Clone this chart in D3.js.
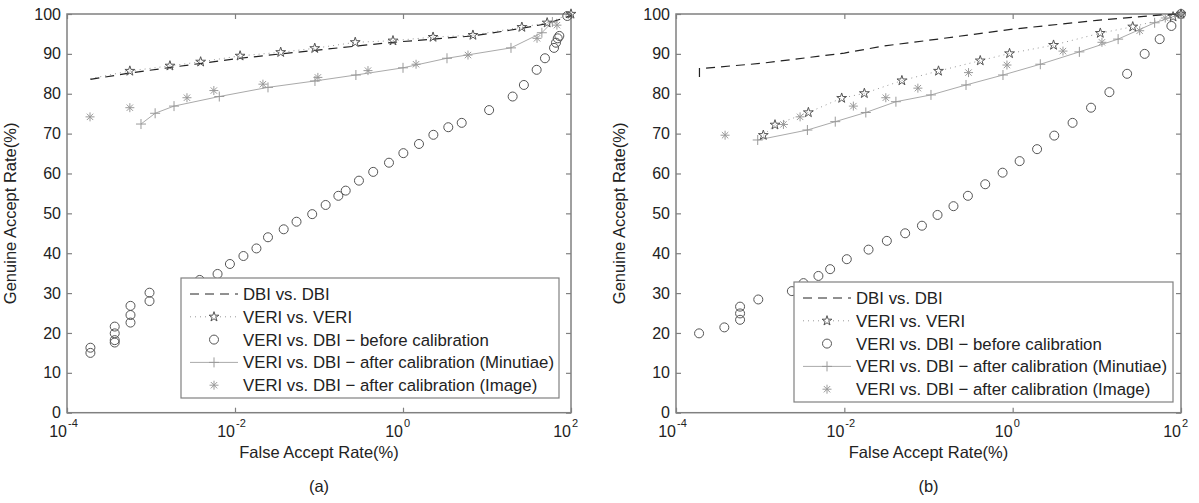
<!DOCTYPE html>
<html>
<head>
<meta charset="utf-8">
<script src="https://cdn.jsdelivr.net/npm/d3@7"></script>
<style>
  body { margin: 0; background: #fff; }
  text { font-family: "Liberation Sans", Arial, sans-serif; fill: #222; }
</style>
</head>
<body>
<svg id="chart" width="1199" height="503"></svg>
<script>
// ---- data ----
const xTicks = [1e-4, 1e-2, 1e0, 1e2];
const xTickExp = ["-4", "-2", "0", "2"];
const yTicks = [0, 10, 20, 30, 40, 50, 60, 70, 80, 90, 100];
const legendLabels = [
  "DBI vs. DBI",
  "VERI vs. VERI",
  "VERI vs. DBI \u2212 before calibration",
  "VERI vs. DBI \u2212 after calibration (Minutiae)",
  "VERI vs. DBI \u2212 after calibration (Image)"
];
const panelNames = ["(a)", "(b)"];

// panel (a)
const dbiA = [[1.9e-4,83.6],[5.6e-4,85.2],[1.7e-3,86.6],[1.15e-2,88.9],[9e-2,90.9],[0.76,92.9],[6.8,94.5],[26,96.4],[52,97.6],[100,99.6]];
const veriA = [[1.9e-4,83.8],[5.6e-4,85.7],[1.68e-3,87.0],[3.9e-3,88.0],[1.15e-2,89.5],[3.5e-2,90.4],[8.9e-2,91.4],[0.27,92.9],[0.76,93.3],[2.28,94.2],[6.8,94.7],[26,96.7],[52,97.8],[100,100]];
const beforeA = [[1.9e-4,16.3],[1.9e-4,15.0],[3.7e-4,21.6],[3.7e-4,19.9],[3.7e-4,18.2],[3.7e-4,17.6],[5.7e-4,26.8],[5.7e-4,24.5],[5.7e-4,22.6],[9.6e-4,30.1],[9.6e-4,28.0],[3.8e-3,33.3],[6.2e-3,34.8],[8.7e-3,37.3],[1.26e-2,39.3],[1.8e-2,41.2],[2.47e-2,44.0],[3.8e-2,46.0],[5.4e-2,47.9],[8.3e-2,49.8],[0.12,52.1],[0.17,54.4],[0.208,55.7],[0.299,58.2],[0.442,60.4],[0.681,62.7],[1.01,65.1],[1.55,67.4],[2.3,69.7],[3.46,71.6],[5.0,72.7],[10.6,75.9],[20.2,79.3],[27.5,82.2],[39,86.0],[49,88.9],[62.8,91.5],[66.3,92.8],[69.5,93.9],[72.6,94.5],[90.3,99.5]];
const minutiaeA = [[7.6e-4,72.4],[1.12e-3,75.1],[1.88e-3,76.9],[6.5e-3,79.3],[2.47e-2,81.6],[8.95e-2,83.2],[0.275,84.7],[1.0,86.5],[3.34,88.9],[19.3,91.5],[45,95.3],[60,98.0]];
const imageA = [[1.88e-4,74.2],[5.6e-4,76.5],[2.68e-3,79.0],[5.6e-3,80.8],[2.15e-2,82.4],[9.7e-2,84.1],[0.383,85.8],[1.43,87.4],[5.94,89.7],[39.4,93.9],[68,97.2]];

// panel (b)
const dbiB = [[1.9e-4,84.2],[1.9e-4,86.3],[1e-3,87.6],[1e-2,90.2],[3e-2,92.0],[0.1,93.4],[1,96.2],[10,98.4],[60,99.8],[100,100]];
const veriB = [[1.09e-3,69.6],[1.5e-3,72.2],[3.74e-3,75.3],[9.3e-3,78.9],[1.73e-2,80.1],[4.83e-2,83.3],[0.1315,85.7],[0.412,88.3],[0.918,90.1],[3.06,92.2],[11,95.2],[26.7,96.8],[80.5,99.3],[100,100]];
const beforeB = [[1.88e-4,19.9],[3.75e-4,21.4],[5.77e-4,26.6],[5.77e-4,24.9],[5.77e-4,23.3],[9.5e-4,28.4],[2.38e-3,30.5],[3.27e-3,32.5],[4.92e-3,34.3],[6.78e-3,36.0],[1.07e-2,38.5],[1.94e-2,40.9],[3.2e-2,43.1],[5.28e-2,45.0],[8.36e-2,46.9],[0.128,49.6],[0.198,51.8],[0.294,54.4],[0.472,57.3],[0.759,60.2],[1.21,63.1],[1.95,66.1],[3.12,69.5],[5.15,72.7],[8.53,76.5],[14.1,80.4],[22.9,85.0],[37.0,90.0],[55.8,93.7],[76.9,97.0],[100,100]];
const minutiaeB = [[9.35e-4,68.4],[3.64e-3,70.9],[7.8e-3,73.0],[1.8e-2,75.3],[4.1e-2,78.0],[0.107,79.7],[0.279,82.2],[0.767,84.7],[2.13,87.4],[6.2,90.5],[17.9,93.7],[48.6,97.8],[100,100]];
const imageB = [[3.83e-4,69.6],[1.89e-3,72.3],[2.98e-3,74.2],[1.28e-2,76.9],[3.11e-2,79.0],[7.48e-2,81.4],[0.299,85.3],[0.855,87.2],[3.96,90.7],[11.5,92.9],[32.3,95.8],[65,99.0],[100,100]];

// ---- layout ----
const panels = [
  { left: 67, right: 571, top: 14, bottom: 412.7,
    legend: { x: 181, y: 278, w: 378, h: 120 },
    dbi: dbiA, veri: veriA, before: beforeA, minutiae: minutiaeA, image: imageA },
  { left: 676, right: 1181, top: 14, bottom: 412.7,
    legend: { x: 794, y: 282, w: 379, h: 120 },
    dbi: dbiB, veri: veriB, before: beforeB, minutiae: minutiaeB, image: imageB }
];

const svg = d3.select("#chart");
const axisColor = "#808080";

// marker shapes
function asteriskPath(r) {
  let p = "";
  for (let k = 0; k < 4; k++) {
    const a = k * Math.PI / 4;
    const dx = r * Math.cos(a), dy = r * Math.sin(a);
    p += `M${-dx},${-dy}L${dx},${dy}`;
  }
  return p;
}
function plusPath(r) { return `M${-r},0L${r},0M0,${-r}L0,${r}`; }
const starPath = d3.symbol(d3.symbolStar, 30)();

function drawMarkers(g, pts, kind, x, y) {
  const sel = g.selectAll(null).data(pts).enter();
  if (kind === "circle") {
    sel.append("circle")
      .attr("cx", d => x(d[0])).attr("cy", d => y(d[1])).attr("r", 4.5)
      .attr("fill", "none").attr("stroke", "#555").attr("stroke-width", 1);
  } else {
    const path = kind === "star" ? starPath : kind === "plus" ? plusPath(5) : asteriskPath(4.5);
    const col = kind === "star" ? "#555" : "#9a9a9a";
    sel.append("path")
      .attr("transform", d => `translate(${x(d[0])},${y(d[1])})`)
      .attr("d", path).attr("fill", "none").attr("stroke", col).attr("stroke-width", 1);
  }
}

panels.forEach((p, i) => {
  const x = d3.scaleLog().domain([1e-4, 1e2]).range([p.left, p.right]);
  const y = d3.scaleLinear().domain([0, 100]).range([p.bottom, p.top]);
  const g = svg.append("g");
  const line = d3.line().x(d => x(d[0])).y(d => y(d[1]));

  // axes box + inward ticks
  g.append("rect").attr("x", p.left).attr("y", p.top)
    .attr("width", p.right - p.left).attr("height", p.bottom - p.top)
    .attr("fill", "none").attr("stroke", axisColor).attr("stroke-width", 1.5);

  const axes = [
    [d3.axisLeft(y).tickValues(yTicks).tickSizeInner(-5).tickSizeOuter(0).tickPadding(6), `translate(${p.left},0)`, true],
    [d3.axisRight(y).tickValues(yTicks).tickSizeInner(-5).tickSizeOuter(0).tickFormat(""), `translate(${p.right},0)`, false],
    [d3.axisBottom(x).tickValues(xTicks).tickSizeInner(-5).tickSizeOuter(0).tickFormat(""), `translate(0,${p.bottom})`, false],
    [d3.axisTop(x).tickValues(xTicks).tickSizeInner(-5).tickSizeOuter(0).tickFormat(""), `translate(0,${p.top})`, false]
  ];
  axes.forEach(([ax, tr, labels]) => {
    const a = g.append("g").attr("transform", tr).call(ax);
    a.select(".domain").remove();
    a.selectAll(".tick line").attr("stroke", axisColor).attr("stroke-width", 1.2);
    if (labels) {
      a.selectAll(".tick text").attr("font-size", 16).attr("fill", "#222")
        .attr("font-family", "Liberation Sans, Arial, sans-serif");
    }
  });

  // x tick labels as 10^n
  xTicks.forEach((t, k) => {
    g.append("text").attr("x", x(t)).attr("y", p.bottom + 24)
      .attr("text-anchor", "end").attr("font-size", 16).text("10");
    g.append("text").attr("x", x(t) + 1).attr("y", p.bottom + 14)
      .attr("text-anchor", "start").attr("font-size", 11).text(xTickExp[k]);
  });

  // axis titles
  const cx = (p.left + p.right) / 2;
  g.append("text").attr("x", cx).attr("y", p.bottom + 45)
    .attr("text-anchor", "middle").attr("font-size", 16.5).text("False Accept Rate(%)");
  g.append("text")
    .attr("transform", `translate(${p.left - 51},${(p.top + p.bottom) / 2}) rotate(-90)`)
    .attr("text-anchor", "middle").attr("font-size", 16.5).text("Genuine Accept Rate(%)");
  g.append("text").attr("x", cx).attr("y", p.bottom + 79)
    .attr("text-anchor", "middle").attr("font-size", 16.5).text(panelNames[i]);

  // series
  const plot = g.append("g");
  plot.append("path").datum(p.minutiae).attr("d", line)
    .attr("fill", "none").attr("stroke", "#aaa").attr("stroke-width", 1);
  plot.append("path").datum(p.veri).attr("d", line)
    .attr("fill", "none").attr("stroke", "#999").attr("stroke-width", 1).attr("stroke-dasharray", "1,4");
  plot.append("path").datum(p.dbi).attr("d", line)
    .attr("fill", "none").attr("stroke", "#222").attr("stroke-width", 1.2).attr("stroke-dasharray", "9,6");
  drawMarkers(plot, p.before, "circle", x, y);
  drawMarkers(plot, p.minutiae, "plus", x, y);
  drawMarkers(plot, p.image, "asterisk", x, y);
  drawMarkers(plot, i === 0 ? p.veri.slice(1) : p.veri, "star", x, y);

  // legend
  const L = p.legend;
  const lg = g.append("g");
  lg.append("rect").attr("x", L.x).attr("y", L.y).attr("width", L.w).attr("height", L.h)
    .attr("fill", "#fff").attr("stroke", axisColor).attr("stroke-width", 1.2);
  const rowY = k => L.y + 16 + k * 22.8;
  const sx0 = L.x + 9, sx1 = L.x + 57, smid = L.x + 33;
  const styles = [
    { stroke: "#222", dash: "9,6", marker: null },
    { stroke: "#999", dash: "1,4", marker: "star" },
    { stroke: null, dash: null, marker: "circle" },
    { stroke: "#aaa", dash: null, marker: "plus" },
    { stroke: null, dash: null, marker: "asterisk" }
  ];
  legendLabels.forEach((lab, k) => {
    const yy = rowY(k);
    const st = styles[k];
    if (st.stroke) {
      lg.append("line").attr("x1", sx0).attr("x2", sx1).attr("y1", yy).attr("y2", yy)
        .attr("stroke", st.stroke).attr("stroke-width", 1)
        .attr("stroke-dasharray", st.dash);
    }
    if (st.marker) {
      const fx = d3.scaleLinear().domain([0, 1]).range([smid, smid + 1]);
      const fy = d3.scaleLinear().domain([0, 1]).range([yy, yy + 1]);
      drawMarkers(lg, [[0, 0]], st.marker, fx, fy);
    }
    lg.append("text").attr("x", L.x + 62).attr("y", yy + 6)
      .attr("font-size", 16.8).text(lab);
  });
});
</script>
</body>
</html>
